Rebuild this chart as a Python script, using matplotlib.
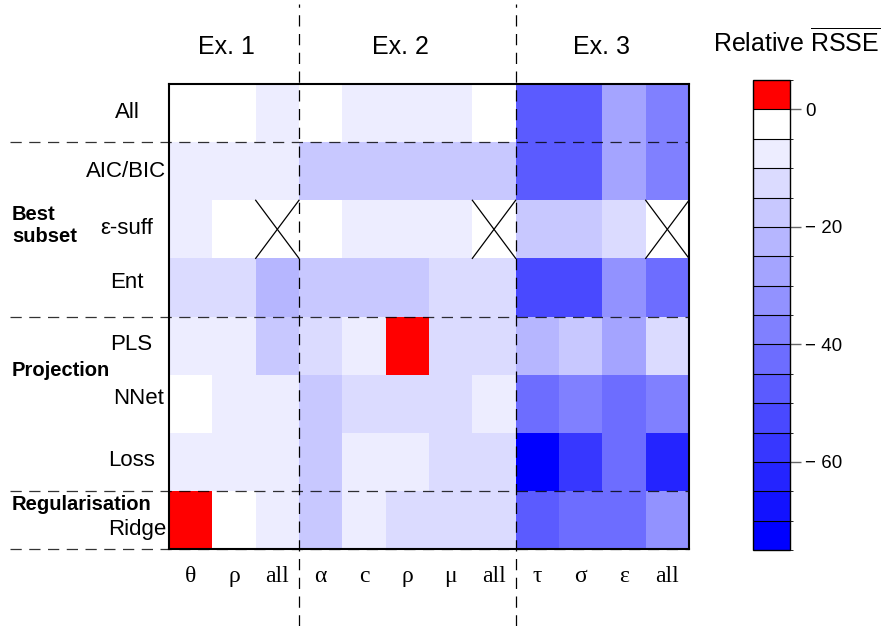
import numpy as np
import matplotlib
matplotlib.use('Agg')
import matplotlib.pyplot as plt
from matplotlib.colors import ListedColormap, BoundaryNorm
from matplotlib.cm import ScalarMappable

plt.rcParams['font.family'] = ['Liberation Sans', 'DejaVu Sans']
plt.rcParams['mathtext.fontset'] = 'custom'
plt.rcParams['mathtext.rm'] = 'Liberation Sans'

# data
col_labels = ['θ', 'ρ', 'all', 'α', 'c', 'ρ', 'μ', 'all', 'τ', 'σ', 'ε', 'all']
experiments = ['Ex. 1', 'Ex. 2', 'Ex. 3']
exp_sizes = [3, 5, 4]
row_labels = ['All', 'AIC/BIC', 'ε-suff', 'Ent', 'PLS', 'NNet', 'Loss', 'Ridge']
groups = ['', 'Best\nsubset', 'Projection', 'Regularisation']
group_sizes = [1, 3, 3, 1]
nan = np.nan
rel_rsse = [
    [-2, -2, -7, -2, -7, -7, -7, -2, -47, -47, -27, -37],
    [-7, -7, -7, -17, -17, -17, -17, -17, -47, -47, -27, -37],
    [-7, -2, nan, -2, -7, -7, -7, nan, -17, -17, -12, nan],
    [-12, -12, -22, -17, -17, -17, -12, -12, -52, -52, -32, -42],
    [-7, -7, -17, -12, -7, 3, -12, -12, -22, -17, -27, -12],
    [-2, -7, -7, -17, -12, -12, -12, -7, -42, -37, -42, -37],
    [-7, -7, -7, -17, -7, -7, -12, -12, -72, -57, -42, -62],
    [3, -2, -7, -17, -7, -12, -12, -12, -47, -42, -42, -32],
]
levels = np.arange(-75, 6, 5)

W, H = 883, 626
fig = plt.figure(figsize=(W / 100, H / 100), dpi=100)

def fx(x):
    return x / W

def fy(y):
    return 1 - y / H

# colour scale: blue -> white in 15 steps, then red above zero
ramp = np.linspace(0, 1, 15)
cmap = ListedColormap([(r, r, 1.0) for r in ramp] + [(1.0, 0, 0)])
norm = BoundaryNorm(levels, cmap.N)

ax = fig.add_axes([fx(169), fy(549), fx(520), 465 / H])
z = np.ma.masked_invalid(np.array(rel_rsse, dtype=float))
nr, nc = z.shape
ax.pcolormesh(np.arange(nc + 1), np.arange(nr + 1), z, cmap=cmap, norm=norm)
ax.set_xlim(0, nc)
ax.set_ylim(nr, 0)
ax.set_xticks([])
ax.set_yticks([])
for s in ax.spines.values():
    s.set_linewidth(1.5)

# crosses for missing cells
for i, j in zip(*np.where(z.mask)):
    ax.plot([j, j + 1], [i, i + 1], color='black', lw=0.9)
    ax.plot([j, j + 1], [i + 1, i], color='black', lw=0.9)

dash = (0, (9, 6))
# vertical separators between experiments
for b in np.cumsum(exp_sizes)[:-1]:
    ax.axvline(b, ymin=-77 / 465, ymax=1 + 80 / 465, color='black', lw=0.9,
               ls=dash, clip_on=False)
# horizontal separators between groups
for b in np.cumsum(group_sizes):
    ax.axhline(b, xmin=-159 / 520, xmax=1, color='black', lw=0.9, ls=dash,
               clip_on=False, alpha=0.8)

# column labels
for j, lab in enumerate(col_labels):
    ax.text(j + 0.5, nr + 0.47, lab, ha='center', va='center', fontsize=17,
            family=['Liberation Serif', 'DejaVu Serif'])

# experiment labels
exp_x = [1.32, 5.33, 9.97]
for lab, x in zip(experiments, exp_x):
    ax.text(x, -0.64, lab, ha='center', va='center', fontsize=18)

# row labels
row_x = [127, 126, 127, 127, 131, 139, 132, 137]
row_y = [112, 171, 229, 282, 345, 398, 461, 530]
for lab, x, y in zip(row_labels, row_x, row_y):
    fig.text(fx(x), fy(y), lab, ha='center', va='center', fontsize=16)

# group labels
group_y = [0, 226, 371, 505]
for lab, y in zip(groups, group_y):
    if lab:
        fig.text(fx(12), fy(y), lab, ha='left', va='center', fontsize=14.5,
                 fontweight='bold', linespacing=1.2)

# colour bar
cax = fig.add_axes([fx(753), fy(550), fx(37), 470 / H])
cb = fig.colorbar(ScalarMappable(norm=norm, cmap=cmap), cax=cax,
                  boundaries=levels, ticks=[0, -20, -40, -60], drawedges=True)
cb.dividers.set_color('black')
cb.dividers.set_linewidth(0.8)
cb.outline.set_linewidth(1.0)
cb.ax.set_yticklabels(['0', '\u2212 20', '\u2212 40', '\u2212 60'])
cb.ax.tick_params(length=8, width=1.0, color='#666666', labelsize=13.5, pad=3)
fig.text(fx(797), fy(42), r'Relative $\overline{\mathrm{RSSE}}$', ha='center',
         va='center', fontsize=18)

fig.savefig('out.png', dpi=100)
